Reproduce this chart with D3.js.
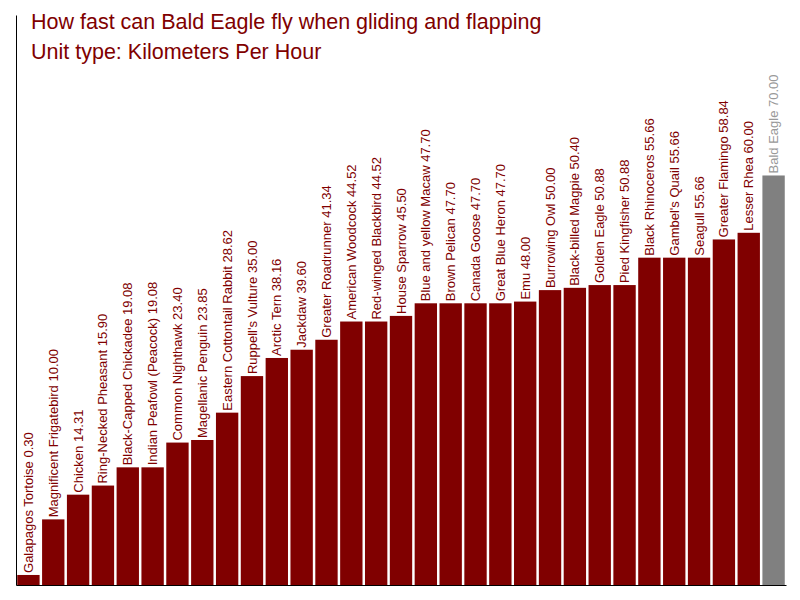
<!DOCTYPE html>
<html>
<head>
<meta charset="utf-8">
<script src="https://cdn.jsdelivr.net/npm/d3@7"></script>
<style>
  body { margin: 0; background: #fff; }
  svg { display: block; font-family: "Liberation Sans", Arial, sans-serif; }
</style>
</head>
<body>
<svg id="chart"></svg>
<script>
// Data (km/h)
const animals = [
  "Galapagos Tortoise", "Magnificent Frigatebird", "Chicken", "Ring-Necked Pheasant",
  "Black-Capped Chickadee", "Indian Peafowl (Peacock)", "Common Nighthawk", "Magellanic Penguin",
  "Eastern Cottontail Rabbit", "Ruppell's Vulture", "Arctic Tern", "Jackdaw",
  "Greater Roadrunner", "American Woodcock", "Red-winged Blackbird", "House Sparrow",
  "Blue and yellow Macaw", "Brown Pelican", "Canada Goose", "Great Blue Heron",
  "Emu", "Burrowing Owl", "Black-billed Magpie", "Golden Eagle",
  "Pied Kingfisher", "Black Rhinoceros", "Gambel's Quail", "Seagull",
  "Greater Flamingo", "Lesser Rhea", "Bald Eagle"
];
const speeds = [
  0.30, 10.00, 14.31, 15.90,
  19.08, 19.08, 23.40, 23.85,
  28.62, 35.00, 38.16, 39.60,
  41.34, 44.52, 44.52, 45.50,
  47.70, 47.70, 47.70, 47.70,
  48.00, 50.00, 50.40, 50.88,
  50.88, 55.66, 55.66, 55.66,
  58.84, 60.00, 70.00
];
const highlight = "Bald Eagle";
const titleLines = [
  "How fast can Bald Eagle fly when gliding and flapping",
  "Unit type: Kilometers Per Hour"
];

const width = 800, height = 600;
const margin = {top: 15, right: 14, bottom: 15, left: 16};

const data = animals.map((name, i) => ({name: name, value: speeds[i]}));

const svg = d3.select("#chart")
    .attr("width", width)
    .attr("height", height);

const x = d3.scaleBand()
    .domain(animals)
    .range([margin.left, width - margin.right])
    .paddingInner(0.1)
    .paddingOuter(0.05);

const y = d3.scaleLinear()
    .domain([-1.45, 98])
    .range([height - margin.bottom, margin.top]);

// bars
svg.append("g")
  .selectAll("rect")
  .data(data)
  .join("rect")
    .attr("x", d => x(d.name))
    .attr("width", x.bandwidth())
    .attr("y", d => y(d.value))
    .attr("height", d => y(y.domain()[0]) - y(d.value))
    .attr("fill", d => d.name === highlight ? "#808080" : "#800000");

// rotated labels above each bar
svg.append("g")
  .selectAll("text")
  .data(data)
  .join("text")
    .attr("transform", d => `translate(${x(d.name) + x.bandwidth() / 2},${y(d.value) - 2}) rotate(-90)`)
    .attr("dy", "0.35em")
    .attr("font-size", 13)
    .attr("fill", d => d.name === highlight ? "#999999" : "#800000")
    .text(d => `${d.name} ${d.value.toFixed(2)}`);

// axes: just the lines
svg.append("g")
    .attr("transform", `translate(${margin.left},0)`)
    .call(d3.axisLeft(y).tickValues([]).tickSizeOuter(0))
    .select(".domain").attr("stroke", "#000");

svg.append("g")
    .attr("transform", `translate(0,${height - margin.bottom})`)
    .call(d3.axisBottom(x).tickValues([]).tickSizeOuter(0))
    .select(".domain").attr("stroke", "#000");

// title
svg.append("g")
  .selectAll("text")
  .data(titleLines)
  .join("text")
    .attr("x", 31)
    .attr("y", (d, i) => 29 + i * 30)
    .attr("font-size", 21.5)
    .attr("fill", "#800000")
    .text(d => d);
</script>
</body>
</html>
